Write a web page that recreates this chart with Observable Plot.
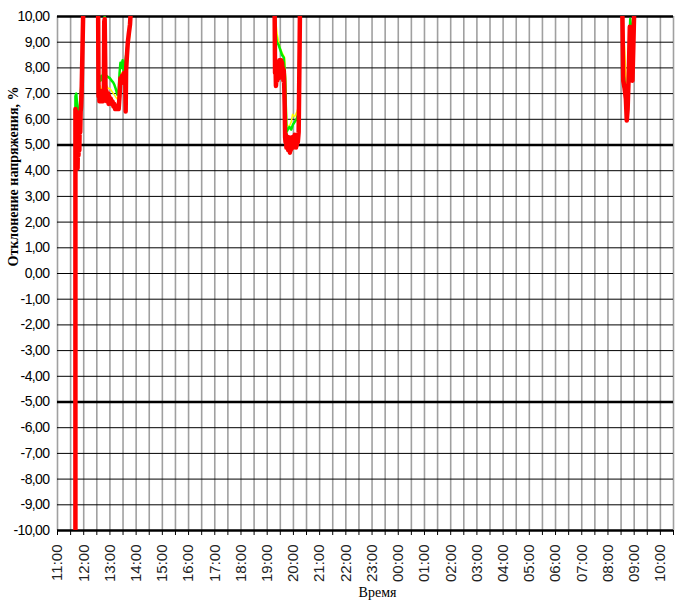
<!DOCTYPE html>
<html><head><meta charset="utf-8">
<script src="https://cdn.jsdelivr.net/npm/d3@7"></script>
<script src="https://cdn.jsdelivr.net/npm/@observablehq/plot@0.6"></script>
<style>body{margin:0;background:#fff} svg{display:block}</style>
</head><body><div id="chart"></div>
<script>
// Tick labels
const xTickLabels = ["11:00","12:00","13:00","14:00","15:00","16:00","17:00","18:00","19:00","20:00","21:00","22:00","23:00","00:00","01:00","02:00","03:00","04:00","05:00","06:00","07:00","08:00","09:00","10:00"];
const yTickValues = [-10,-9,-8,-7,-6,-5,-4,-3,-2,-1,0,1,2,3,4,5,6,7,8,9,10];
const yLimitValues = [-10,-5,5,10];
const xDomainLabels = ["11:00","10:30"];
const yTitle = "Отклонение напряжения, %";
const xTitle = "Время";

// Series (values above 10 / below -10 are off the chart)
const redTime = ["11:41","11:41","11:42","11:43","11:44","11:45","11:46","11:47","11:48","11:49","11:50","11:51","11:52","11:53","11:54","11:55","11:57","11:59","12:05",
 "12:30","12:33","12:34","12:35","12:36","12:37","12:38","12:39","12:40","12:41","12:42","12:43","12:44","12:45","12:46","12:47","12:48","12:50","12:51","12:52","12:53","12:54","12:55","12:56","12:57","12:58","13:00","13:02","13:04","13:06","13:08","13:10","13:12","13:14","13:16","13:18","13:20","13:22","13:24","13:26","13:28","13:30","13:32","13:35","13:36","13:37","13:39","13:41","13:43","13:46","13:48","13:55",
 "19:10","19:17","19:18","19:19","19:20","19:21","19:22","19:23","19:24","19:25","19:26","19:27","19:28","19:29","19:30","19:31","19:32","19:33","19:34","19:35","19:36","19:37","19:38","19:39","19:40","19:41","19:42","19:43","19:44","19:45","19:46","19:47","19:48","19:49","19:50","19:51","19:52","19:53","19:54","19:55","19:56","19:57","19:58","19:59","20:00","20:01","20:02","20:03","20:04","20:05","20:06","20:07","20:08","20:09","20:10","20:11","20:12","20:14","20:15","20:20",
 "08:25","08:33","08:35","08:38","08:41","08:43","08:45","08:48","08:50","08:51","08:53","08:55","08:56","08:58","09:00","09:05","10:30"];
const redValue = [-10.5,6.4,5.2,6.3,4.4,5.6,4.1,5.3,4.6,5.9,4.8,6.2,5.5,6.3,6.5,6.9,8.6,10.3,11,
 11,10.2,6.9,7.1,6.7,7.0,6.8,7.1,6.7,7.0,6.8,7.1,6.7,7.0,6.9,9.8,9.9,7.0,6.8,7.1,6.7,6.9,6.7,7.0,6.6,6.9,6.7,6.8,6.6,6.7,6.5,6.6,6.4,6.5,6.4,6.5,6.4,6.9,7.6,7.4,7.7,7.5,7.8,7.7,6.3,7.9,8.5,9.0,9.3,9.7,10.3,11,
 11,10.2,7.8,8.1,7.3,7.6,8.0,7.5,8.1,7.7,8.2,7.6,8.3,7.8,8.1,7.7,8.3,7.9,8.2,7.8,8.0,7.5,7.9,7.3,6.5,5.3,5.1,5.4,4.9,5.3,5.0,5.2,4.8,5.3,4.9,5.1,4.7,5.0,4.8,5.2,4.9,5.3,5.0,5.2,4.9,5.3,5.0,5.4,5.1,5.3,4.9,5.2,5.0,5.4,5.1,5.3,5.5,8.5,10.3,11,
 11,10.2,7.5,7.2,6.8,5.95,6.4,8.0,9.6,8.5,7.6,8.2,7.5,8.8,10.2,11,11];

const greenTime = ["11:41","11:41","11:43","11:45","11:47","11:50","11:53","11:55","11:57","11:59","12:05",
 "12:30","12:33","12:34","12:36","12:38","12:40","12:42","12:44","12:47","12:48","12:50","12:52","12:56","13:00","13:04","13:07","13:10","13:13","13:17","13:20","13:22","13:24","13:26","13:29","13:31","13:34","13:38","13:42","13:45","13:48","13:55",
 "19:10","19:17","19:19","19:22","19:26","19:30","19:34","19:38","19:41","19:44","19:47","19:51","19:55","19:59","20:03","20:07","20:11","20:15","20:20",
 "08:25","08:33","08:35","08:37","08:40","08:43","08:46","08:49","08:51","08:53","08:55","08:58","09:00","09:05","10:30"];
const greenValue = [-10.5,6.9,7.0,6.5,5.5,6.3,7.0,7.4,8.7,10.3,11,
 11,10.2,7.6,7.7,7.5,7.6,7.7,7.5,9.9,10.0,7.6,7.7,7.64,7.6,7.5,7.45,7.35,7.2,6.96,7.1,7.8,8.2,8.0,8.3,7.9,8.1,8.6,9.2,9.6,10.2,11,
 11,10.2,9.4,9.0,8.9,8.7,8.5,8.4,7.6,5.5,5.6,5.7,5.6,5.8,5.9,6.0,6.2,10.3,11,
 11,10.2,7.8,7.6,7.0,6.2,7.2,9.0,9.9,9.6,9.0,9.3,10.2,11,11];

const yellowTime = ["11:41","11:41","11:44","11:47","11:50","11:53","11:55","11:57","11:59","12:05",
 "12:30","12:33","12:34","12:36","12:38","12:40","12:42","12:44","12:47","12:48","12:50","12:53","12:56","13:00","13:04","13:08","13:12","13:16","13:20","13:23","13:26","13:30","13:34","13:38","13:42","13:46","13:49","13:55",
 "19:10","19:17","19:19","19:23","19:29","19:34","19:40","19:42","19:45","19:50","19:55","19:58","20:03","20:08","20:12","20:15","20:20",
 "08:25","08:33","08:36","08:38","08:40","08:42","08:44","08:47","08:50","08:52","08:55","08:58","09:00","09:05","10:30"];
const yellowValue = [-10.5,6.6,6.8,5.8,6.2,6.6,7.0,8.6,10.3,11,
 11,10.2,7.3,7.2,7.3,7.1,7.2,7.1,9.8,9.9,7.2,7.3,7.2,7.2,7.1,7.0,6.9,6.8,6.9,7.5,7.8,7.8,7.9,8.3,8.9,9.3,10.2,11,
 11,10.2,9.9,9.3,8.8,8.6,8.4,7.6,5.8,5.7,5.9,6.2,6.1,6.3,6.5,10.3,11,
 11,10.2,9.2,8.8,8.1,7.0,6.3,7.5,9.5,8.8,8.0,9.0,10.2,11,11];

const parseT = s => { const [h, m] = s.split(":").map(Number); return new Date(Date.UTC(2020, 0, h < 11 ? 2 : 1, h, m)); };
const rows = (ts, vs) => ts.map((t, i) => ({t: parseT(t), v: vs[i]}));
const red = rows(redTime, redValue), green = rows(greenTime, greenValue), yellow = rows(yellowTime, yellowValue);

const xDomain = xDomainLabels.map(parseT);
const hourTicks = xTickLabels.map(parseT);
const halfHours = d3.utcMinute.every(30).range(xDomain[0], new Date(+xDomain[1] + 1));

const chart = Plot.plot({
  width: 679, height: 602,
  marginLeft: 57, marginRight: 6, marginTop: 16, marginBottom: 72,
  x: {type: "utc", domain: xDomain},
  y: {domain: [-10, 10]},
  style: {background: "white", color: "black"},
  marks: [
    Plot.ruleX(halfHours, {stroke: "#a0a0a0", strokeWidth: 1.6}),
    Plot.ruleY(yTickValues, {stroke: "black", strokeWidth: 1}),
    Plot.ruleY(yLimitValues, {stroke: "black", strokeWidth: 2.6}),
    Plot.line(yellow, {x: "t", y: "v", stroke: "#ffff00", strokeWidth: 1.5, clip: true}),
    Plot.line(green, {x: "t", y: "v", stroke: "#00ee00", strokeWidth: 2.5, clip: true}),
    Plot.line(red, {x: "t", y: "v", stroke: "#ff0000", strokeWidth: 4.5, strokeLinejoin: "round", clip: true}),
    Plot.axisY({ticks: yTickValues, tickFormat: d => d.toFixed(2).replace(".", ","), tickSize: 5, tickPadding: 3, label: null,
      fontSize: 14, fontFamily: "Liberation Sans, Arial, sans-serif", stroke: null}),
    Plot.axisX({ticks: halfHours, tickSize: 5, tickFormat: () => "", label: null}),
    Plot.axisX({ticks: hourTicks, tickSize: 0, tickPadding: 14, tickRotate: -90, tickFormat: d3.utcFormat("%H:%M"), label: null,
      fontSize: 15, fontFamily: "Liberation Sans, Arial, sans-serif", fill: "#222"}),
    Plot.text([yTitle], {frameAnchor: "left", rotate: -90, dx: -44, dy: -7, fontSize: 14, fontWeight: "bold",
      fontFamily: "Liberation Serif, Times New Roman, serif", fill: "black"}),
    Plot.text([xTitle], {frameAnchor: "bottom", dy: 66, dx: 12, fontSize: 14,
      fontFamily: "Liberation Serif, Times New Roman, serif", fill: "black"})
  ]
});
document.getElementById("chart").appendChild(chart);
d3.select(chart).selectAll('g[aria-label="y-axis tick label"] text').attr("letter-spacing", "-0.6");
</script></body></html>
